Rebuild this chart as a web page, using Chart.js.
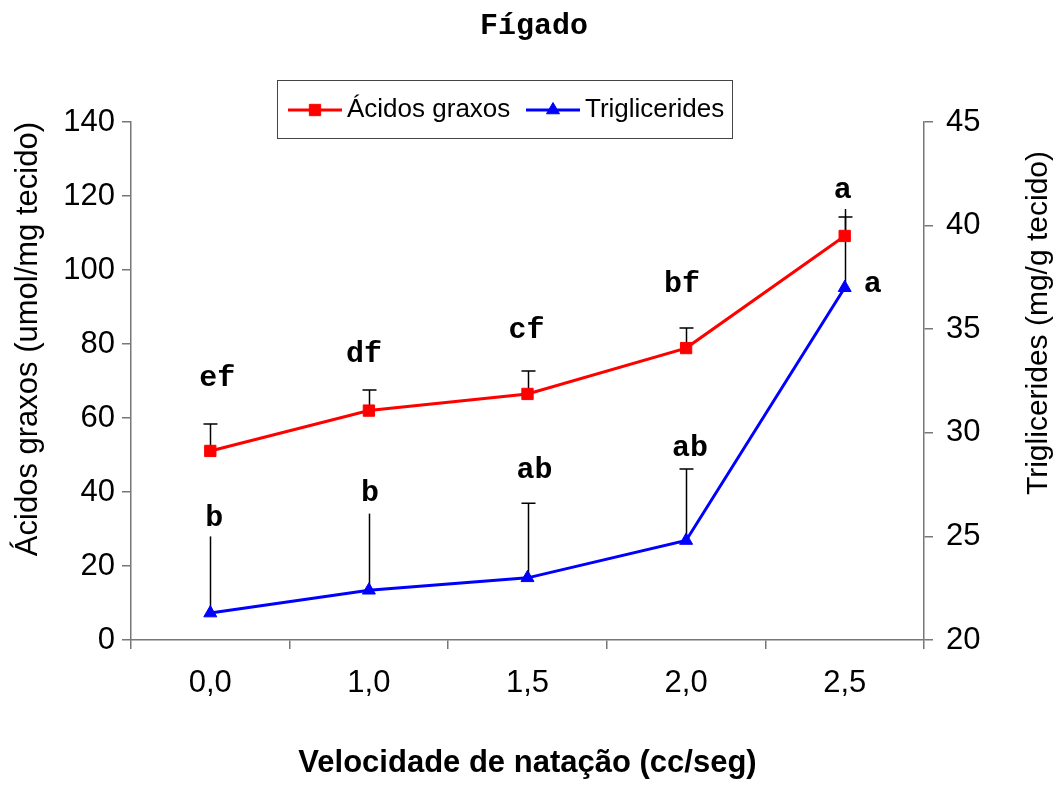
<!DOCTYPE html>
<html>
<head>
<meta charset="utf-8">
<script src="https://cdn.jsdelivr.net/npm/chart.js@4.4.0/dist/chart.umd.min.js"></script>
<style>
  html, body { margin: 0; padding: 0; background: #fff; }
  #wrap { width: 1055px; height: 785px; position: relative; }
</style>
</head>
<body>
<div id="wrap"><canvas id="chart"></canvas></div>
<script>
// ---- data ----
const speeds = ['0,0', '1,0', '1,5', '2,0', '2,5'];

const fattyAcids = [51.1, 62.0, 66.5, 78.9, 109.2];
const fattyAcidsErr = [7.3, 5.6, 6.2, 5.4, 5.1];
const fattyAcidsLetters = ['ef', 'df', 'cf', 'bf', 'a'];
const fattyAcidsLetterY = [68.6, 75.1, 81.6, 94.1, 119.5];

const triglycerides = [21.3, 22.4, 23.0, 24.8, 37.0];
const triglyceridesErr = [3.7, 3.7, 3.6, 3.45, 3.8];
const triglyceridesLetters = ['b', 'b', 'ab', 'ab', 'a'];
const triglyceridesLetterY = [25.5, 26.7, 27.8, 28.9, 36.8];

const SANS = '"Liberation Sans", Arial, sans-serif';
const MONO = '"Liberation Mono", "Courier New", monospace';
const AXIS = '#777';

/**
 * Vertical (upper) error bars, drawn under the markers
 */
const errorBars = {
  id: 'errorBars',
  beforeDatasetsDraw(chart) {
    const ctx = chart.ctx;
    chart.data.datasets.forEach((ds, i) => {
      const meta = chart.getDatasetMeta(i);
      const scale = chart.scales[ds.yAxisID];
      ctx.save();
      ctx.strokeStyle = '#000';
      ctx.lineWidth = 1.5;
      meta.data.forEach((pt, j) => {
        const x = Math.round(pt.x) + 0.5;
        const top = scale.getPixelForValue(ds.data[j] + ds.errors[j]);
        ctx.beginPath();
        ctx.moveTo(x, pt.y);
        ctx.lineTo(x, top);
        if (ds.errorCaps[j]) {
          ctx.moveTo(x - 7, top);
          ctx.lineTo(x + 7, top);
        }
        ctx.stroke();
      });
      ctx.restore();
    });
  }
};

/**
 * Significance letters above each point
 */
const letters = {
  id: 'letters',
  afterDatasetsDraw(chart) {
    const ctx = chart.ctx;
    ctx.save();
    ctx.fillStyle = '#000';
    ctx.font = 'bold 30px ' + MONO;
    ctx.textAlign = 'center';
    ctx.textBaseline = 'alphabetic';
    chart.data.datasets.forEach((ds, i) => {
      const meta = chart.getDatasetMeta(i);
      const scale = chart.scales[ds.yAxisID];
      meta.data.forEach((pt, j) => {
        ctx.fillText(ds.letters[j], pt.x + ds.letterDx[j], scale.getPixelForValue(ds.letterY[j]));
      });
    });
    ctx.restore();
  }
};

/**
 * Title, boxed legend and right axis title (reads bottom to top)
 */
const decorations = {
  id: 'decorations',
  afterDraw(chart) {
    const ctx = chart.ctx;
    const drawPoint = Chart.helpers.drawPoint;
    ctx.save();

    // title
    ctx.fillStyle = '#000';
    ctx.font = 'bold 30px ' + MONO;
    ctx.textAlign = 'center';
    ctx.textBaseline = 'middle';
    ctx.fillText('Fígado', 534, 26);

    // legend box
    ctx.fillStyle = '#fff';
    ctx.fillRect(277, 80, 455, 58);
    ctx.strokeStyle = '#444';
    ctx.lineWidth = 1;
    ctx.strokeRect(277.5, 80.5, 455, 58);

    const items = chart.data.datasets.map((ds, i) => ({
      ds: ds, x0: [288, 526][i], x1: [342, 580][i], tx: [347, 585][i]
    }));
    items.forEach(it => {
      const y = 110;
      ctx.strokeStyle = it.ds.borderColor;
      ctx.lineWidth = 3;
      ctx.beginPath();
      ctx.moveTo(it.x0, y);
      ctx.lineTo(it.x1, y);
      ctx.stroke();
      ctx.fillStyle = it.ds.borderColor;
      ctx.lineWidth = 1;
      drawPoint(ctx, { pointStyle: it.ds.pointStyle, radius: it.ds.pointRadius, borderWidth: 1 }, (it.x0 + it.x1) / 2, y);
      ctx.fillStyle = '#000';
      ctx.font = '26px ' + SANS;
      ctx.textAlign = 'left';
      ctx.textBaseline = 'middle';
      ctx.fillText(it.ds.label, it.tx, y);
    });

    // right axis title
    ctx.translate(1039, 323);
    ctx.rotate(-Math.PI / 2);
    ctx.fillStyle = '#000';
    ctx.font = '30px ' + SANS;
    ctx.textAlign = 'center';
    ctx.textBaseline = 'middle';
    ctx.fillText('Triglicerides (mg/g tecido)', 0, 0);
    ctx.restore();
  }
};

new Chart(document.getElementById('chart'), {
  type: 'line',
  data: {
    labels: speeds,
    datasets: [
      {
        label: 'Ácidos graxos',
        data: fattyAcids,
        errors: fattyAcidsErr,
        errorCaps: [true, true, true, true, true],
        letters: fattyAcidsLetters,
        letterY: fattyAcidsLetterY,
        letterDx: [7, -5, -1, -4, -2],
        yAxisID: 'y',
        borderColor: '#ff0000',
        backgroundColor: '#ff0000',
        borderWidth: 3,
        tension: 0,
        pointStyle: 'rect',
        pointRadius: 8,
        pointBorderWidth: 1,
        pointBorderColor: '#ff0000',
        pointBackgroundColor: '#ff0000'
      },
      {
        label: 'Triglicerides',
        data: triglycerides,
        errors: triglyceridesErr,
        errorCaps: [false, false, true, true, false],
        letters: triglyceridesLetters,
        letterY: triglyceridesLetterY,
        letterDx: [4, 1, 7, 4, 28],
        yAxisID: 'y1',
        borderColor: '#0000ff',
        backgroundColor: '#0000ff',
        borderWidth: 3,
        tension: 0,
        pointStyle: 'triangle',
        pointRadius: 7.5,
        pointBorderWidth: 1,
        pointBorderColor: '#0000ff',
        pointBackgroundColor: '#0000ff'
      }
    ]
  },
  options: {
    responsive: true,
    maintainAspectRatio: false,
    animation: false,
    layout: { padding: { top: 122, bottom: 0, left: 0, right: 0 } },
    plugins: {
      legend: { display: false },
      title: { display: false },
      tooltip: { enabled: false }
    },
    scales: {
      x: {
        type: 'category',
        offset: true,
        grid: { offset: true, drawOnChartArea: false, tickLength: 9, color: AXIS, lineWidth: 1.5 },
        border: { color: AXIS, width: 1.5 },
        ticks: { color: '#000', font: { family: SANS, size: 31 }, padding: 16 },
        title: {
          display: true,
          text: 'Velocidade de natação (cc/seg)',
          color: '#000',
          font: { family: SANS, size: 31, weight: 'bold' },
          padding: { top: 0, bottom: 3 }
        },
        afterFit(scale) { scale.height = 145; }
      },
      y: {
        position: 'left',
        min: 0,
        max: 140,
        grid: { drawOnChartArea: false, tickLength: 9, color: AXIS, lineWidth: 1.5 },
        border: { color: AXIS, width: 1.5 },
        ticks: { stepSize: 20, color: '#000', font: { family: SANS, size: 31 }, padding: 7 },
        title: {
          display: true,
          text: 'Ácidos graxos (umol/mg tecido)',
          align: 'end',
          color: '#000',
          font: { family: SANS, size: 31 },
          padding: { top: 10, bottom: 0 }
        },
        afterFit(scale) { scale.width = 131; }
      },
      y1: {
        position: 'right',
        min: 20,
        max: 45,
        grid: { drawOnChartArea: false, tickLength: 9, color: AXIS, lineWidth: 1.5 },
        border: { color: AXIS, width: 1.5 },
        ticks: { stepSize: 5, color: '#000', font: { family: SANS, size: 31 }, padding: 13 },
        afterFit(scale) { scale.width = 131; }
      }
    }
  },
  plugins: [errorBars, letters, decorations]
});
</script>
</body>
</html>
